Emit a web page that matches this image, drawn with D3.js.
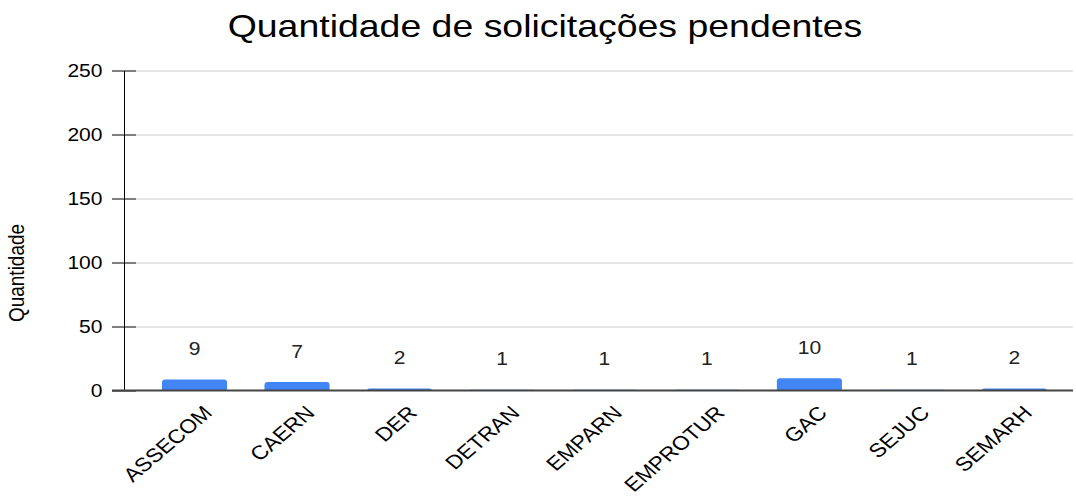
<!DOCTYPE html>
<html>
<head>
<meta charset="utf-8">
<script src="https://cdn.jsdelivr.net/npm/d3@7"></script>
<style>
  body { margin: 0; background: #fff; }
  svg { display: block; font-family: "Liberation Sans", Arial, sans-serif; }
</style>
</head>
<body>
<div id="chart"></div>
<script>
// data
const categories = ["ASSECOM", "CAERN", "DER", "DETRAN", "EMPARN", "EMPROTUR", "GAC", "SEJUC", "SEMARH"];
const values = [9, 7, 2, 1, 1, 1, 10, 1, 2];
const yTicks = [0, 50, 100, 150, 200, 250];

const width = 1076;
const height = 496;
// the reference text looks a little stretched sideways
const sx = 1.17;

const svg = d3.select("#chart").append("svg")
  .attr("width", width)
  .attr("height", height);

const x = d3.scaleBand()
  .domain(categories)
  .range([143.3, 1065.6])
  .paddingInner(0.365)
  .paddingOuter(0.1825);

const y = d3.scaleLinear()
  .domain([0, 250])
  .range([391, 71]);

// title
svg.append("text")
  .attr("transform", `translate(545,37) scale(${sx},1)`)
  .attr("text-anchor", "middle")
  .style("font-size", "32px")
  .style("fill", "#000")
  .text("Quantidade de solicitações pendentes");

// gridlines
svg.append("g")
  .selectAll("line")
  .data(yTicks.filter(d => d > 0))
  .join("line")
    .attr("x1", 136)
    .attr("x2", 1073)
    .attr("y1", d => y(d))
    .attr("y2", d => y(d))
    .attr("stroke", "#ccc")
    .attr("stroke-width", 1);

// y axis line + ticks
svg.append("line")
  .attr("x1", 124.5).attr("x2", 124.5)
  .attr("y1", y(250)).attr("y2", y(0))
  .attr("stroke", "#000");

const yt = svg.append("g")
  .selectAll("g")
  .data(yTicks)
  .join("g")
    .attr("transform", d => `translate(0,${y(d)})`);
yt.append("line")
  .attr("x1", 112)
  .attr("x2", 136)
  .attr("stroke", "#000");
yt.append("text")
  .attr("transform", `translate(102.5,0) scale(${sx},1)`)
  .attr("text-anchor", "end")
  .attr("dy", "0.36em")
  .style("font-size", "18px")
  .style("fill", "#000")
  .text(d => d);

// bars
const r = 3;
svg.append("g")
    .attr("fill", "#4285f4")
  .selectAll("path")
  .data(categories)
  .join("path")
    .attr("d", (d, i) => {
      const x0 = x(d), w = x.bandwidth();
      const y0 = y(values[i]), y1 = y(0);
      const rr = Math.min(r, y1 - y0);
      return `M${x0},${y1}V${y0 + rr}Q${x0},${y0} ${x0 + rr},${y0}H${x0 + w - rr}Q${x0 + w},${y0} ${x0 + w},${y0 + rr}V${y1}Z`;
    });

// baseline
svg.append("line")
  .attr("x1", 112)
  .attr("x2", 1073)
  .attr("y1", y(0) - 0.5)
  .attr("y2", y(0) - 0.5)
  .attr("stroke", "#444")
  .attr("stroke-width", 2);

// value labels
svg.append("g")
  .selectAll("text")
  .data(categories)
  .join("text")
    .attr("transform", (d, i) => `translate(${x(d) + x.bandwidth() / 2},${y(values[i]) - 24.5}) scale(${sx},1)`)
    .attr("text-anchor", "middle")
    .style("font-size", "18px")
    .style("fill", "#222")
    .text((d, i) => values[i]);

// x labels
svg.append("g")
  .selectAll("text")
  .data(categories)
  .join("text")
    .attr("transform", d => `translate(${x(d) + x.bandwidth() / 2 + 19},414) scale(${sx},1) rotate(-45)`)
    .attr("text-anchor", "end")
    .style("font-size", "19.5px")
    .style("fill", "#000")
    .text(d => d);

// y axis title
svg.append("text")
  .attr("transform", `translate(24,273) scale(${sx},1) rotate(-90)`)
  .attr("text-anchor", "middle")
  .style("font-size", "19px")
  .style("fill", "#000")
  .text("Quantidade");
</script>
</body>
</html>
